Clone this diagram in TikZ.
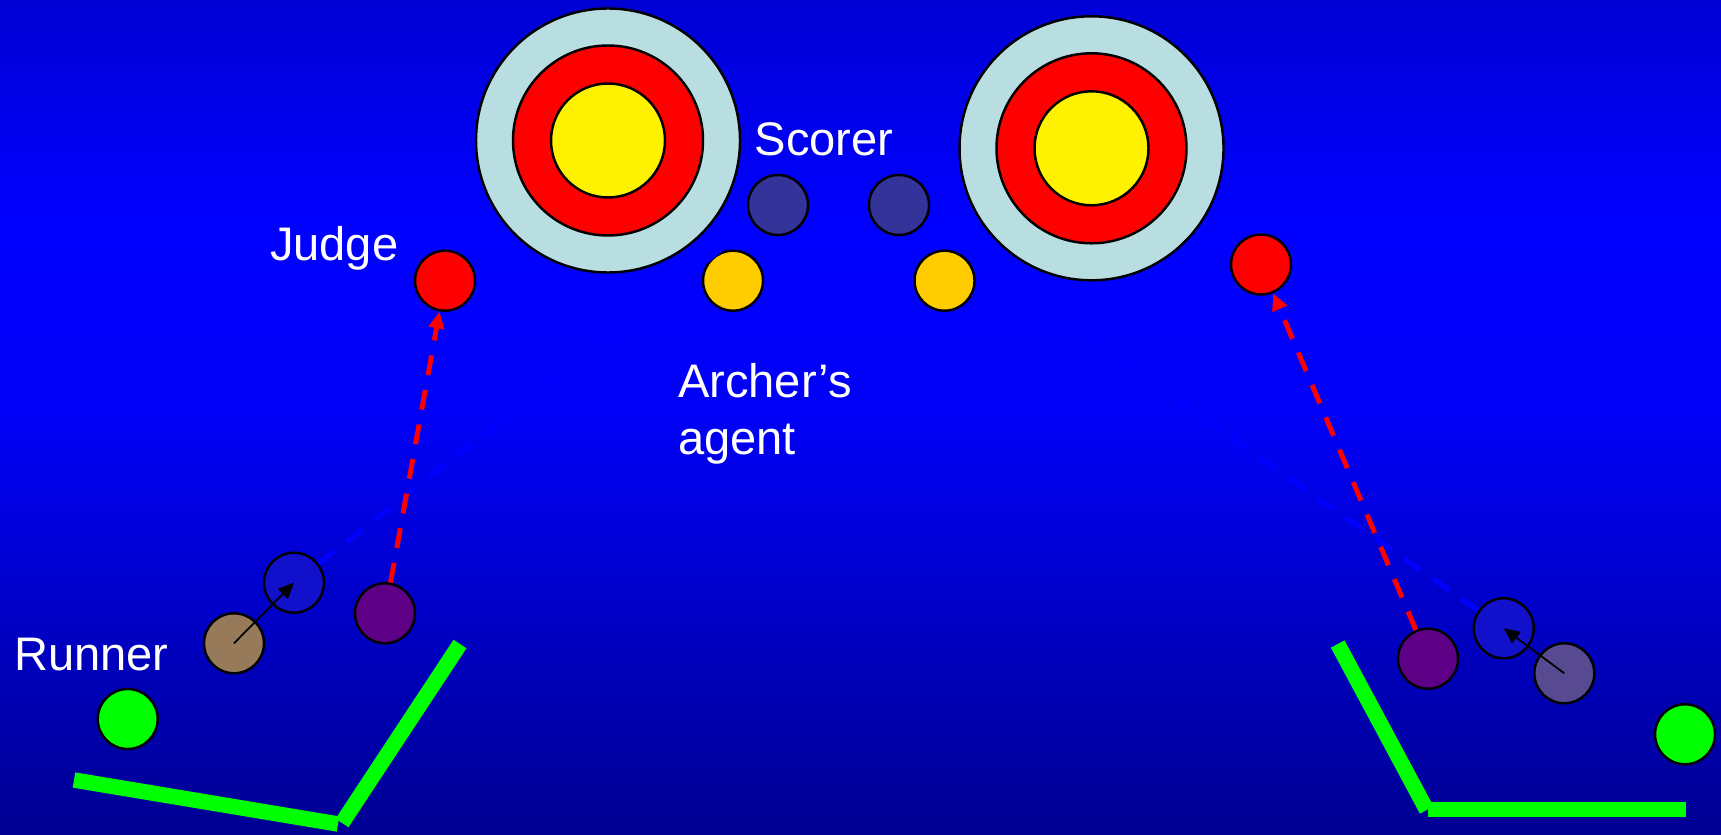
\documentclass[tikz,border=0pt]{standalone}
\usepackage{fontspec}
\setmainfont{Liberation Sans}
\usetikzlibrary{arrows.meta}
\definecolor{bgtop}{RGB}{0,0,212}
\definecolor{bgmid}{RGB}{0,0,255}
\definecolor{bglow}{RGB}{0,0,246}
\definecolor{bgbot}{RGB}{0,0,146}
\definecolor{ringblue}{RGB}{185,222,225}
\definecolor{scorerblue}{RGB}{51,51,153}
\definecolor{agentgold}{RGB}{255,204,0}
\definecolor{runnergreen}{RGB}{0,255,0}
\definecolor{brownman}{RGB}{150,122,90}
\definecolor{blueman}{RGB}{17,17,204}
\definecolor{purpleman}{RGB}{94,0,134}
\definecolor{slateman}{RGB}{88,74,145}
\tikzset{
  person/.style={circle, draw=black, line width=0.7pt, minimum size=0.6cm, inner sep=0pt},
  ring/.style={circle, draw=black, line width=0.7pt, inner sep=0pt},
  tag/.style={text=white, font=\fontsize{13.4pt}{16.1pt}\selectfont, inner sep=0pt},
  walk/.style={line width=1.4pt, dash pattern=on 5.7pt off 4.3pt},
  move/.style={-{Triangle[length=4.5pt,width=4pt]}, line width=0.5pt, draw=black},
  fence/.style={line width=4.4pt, draw=runnergreen, line cap=butt},
}

\begin{document}
\begin{tikzpicture}
\useasboundingbox (0,0) rectangle (17.21,8.34);
\fill[top color=bgtop, bottom color=bgmid] (0,6.13) rectangle (17.21,8.34);
\fill[top color=bgmid, bottom color=bglow] (0,4.13) rectangle (17.21,6.15);
\fill[top color=bglow, bottom color=bgbot] (0,0) rectangle (17.21,4.15);
% targets
\node[ring, fill=ringblue, minimum size=2.64cm] (tgtA) at (6.080,6.935) {};
\node[ring, fill=red, minimum size=1.90cm] at (tgtA) {};
\node[ring, fill=yellow, minimum size=1.14cm] at (tgtA) {};
\node[ring, fill=ringblue, minimum size=2.64cm] (tgtB) at (10.915,6.857) {};
\node[ring, fill=red, minimum size=1.90cm] at (tgtB) {};
\node[ring, fill=yellow, minimum size=1.14cm] at (tgtB) {};
% people on the line
\node[person, fill=scorerblue] (scorerL) at (7.780,6.290) {};
\node[person, fill=scorerblue] (scorerR) at (8.990,6.290) {};
\node[person, fill=agentgold] (agentL) at (7.330,5.533) {};
\node[person, fill=agentgold] (agentR) at (9.445,5.533) {};
\node[person, fill=red] (judgeL) at (4.450,5.533) {};
\node[person, fill=red] (judgeR) at (12.610,5.695) {};
% left lane
\node[person, fill=runnergreen] (runnerL) at (1.277,1.150) {};
\node[person, fill=brownman] (brownL) at (2.340,1.907) {};
\node[person, fill=blueman] (blueL) at (2.940,2.513) {};
\node[person, fill=purpleman] (purpleL) at (3.850,2.207) {};
% right lane
\node[person, fill=runnergreen] (runnerR) at (16.850,0.997) {};
\node[person, fill=purpleman] (purpleR) at (14.280,1.753) {};
\node[person, fill=blueman] (blueR) at (15.037,2.057) {};
\node[person, fill=slateman] (slateR) at (15.643,1.607) {};
% fences
\draw[fence] (0.740,0.540) -- (3.380,0.100);
\draw[fence] (3.420,0.110) -- (4.600,1.900);
\draw[fence] (13.377,1.900) -- (14.267,0.240);
\draw[fence] (14.280,0.243) -- (16.857,0.243);
% paths
\draw[walk, draw=blue] (blueL) -- (scorerL);
\draw[walk, draw=blue] (blueR) -- (scorerR);
\draw[walk, draw=red, -{Triangle[length=4.8pt,width=4.3pt]}] (purpleL) -- (judgeL);
\draw[walk, draw=red, -{Triangle[length=4.8pt,width=4.3pt]}] (purpleR) -- (judgeR);
\draw[move] (brownL.center) -- (blueL.center);
\draw[move] (slateR.center) -- (blueR.center);
% labels
\node[tag, anchor=base west] (judgeText) at (2.693,5.733) {Judge};
\node[tag, anchor=base west] (scorerText) at (7.540,6.780) {Scorer};
\node[tag, anchor=base west] (runnerText) at (0.133,1.633) {Runner};
\node[tag, anchor=north west, align=left] (agentText) at (6.773,4.710) {Archer’s\\agent};
\end{tikzpicture}
\end{document}
